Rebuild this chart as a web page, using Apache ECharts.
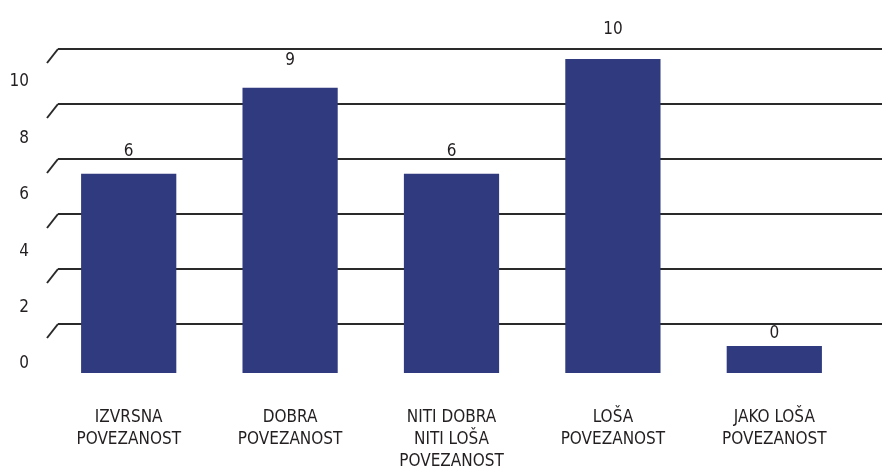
<!DOCTYPE html>
<html>
<head>
<meta charset="utf-8">
<title>povezanost</title>
<script src="https://cdn.jsdelivr.net/npm/echarts@6/dist/echarts.min.js"></script>
<style>
    html, body { margin: 0; padding: 0; background: #fff; }
    #main { width: 882px; height: 468px; }
</style>
</head>
<body>
<div id="main"></div>
<script type="text/javascript">
var categories = ['IZVRSNA\nPOVEZANOST', 'DOBRA\nPOVEZANOST', 'NITI DOBRA\nNITI LOŠA\nPOVEZANOST', 'LOŠA\nPOVEZANOST', 'JAKO LOŠA\nPOVEZANOST'];
var values = [6, 9, 6, 10, 0];
var yTicks = [0, 2, 4, 6, 8, 10];

var font = '"DejaVu Sans Condensed", "DejaVu Sans", sans-serif';
var ink = '#231f20';
var barColor = '#303a7f';
var lineColor = '#2a2a2a';
// bar floor sits below value 0 (3D depth of the original)
var barMin = -0.94;

var chart = echarts.init(document.getElementById('main'));

var option = {
    animation: false,
    grid: [
        { left: 48, right: 27, top: 40, bottom: 95, outerBoundsMode: 'none' },   // bars
        { left: 58, right: 0, top: 49, bottom: 144, outerBoundsMode: 'none' },   // back wall gridlines
        { left: 37, right: 0, top: 82, bottom: 104, outerBoundsMode: 'none' }    // front axis labels
    ],
    xAxis: [
        {
            gridIndex: 0, type: 'category', data: categories,
            axisLine: { show: false }, axisTick: { show: false },
            axisLabel: { interval: 0, margin: 34, lineHeight: 22, fontSize: 17, fontFamily: font, color: ink }
        },
        { gridIndex: 1, type: 'value', min: 0, max: 1, show: false },
        { gridIndex: 2, type: 'value', min: 0, max: 1, show: false }
    ],
    yAxis: [
        { gridIndex: 0, type: 'value', min: barMin, max: 10.66, show: false },
        {
            gridIndex: 1, type: 'value', min: 0, max: 10, interval: 2,
            axisLabel: { show: false }, axisLine: { show: false }, axisTick: { show: false },
            splitLine: { lineStyle: { color: lineColor, width: 2 } }
        },
        {
            gridIndex: 2, type: 'value', min: 0, max: 10, interval: 2,
            axisLine: { show: false }, axisTick: { show: false }, splitLine: { show: false },
            axisLabel: { margin: 8, fontSize: 17, fontFamily: font, color: ink }
        }
    ],
    series: [
        {
            // slanted stubs at the left end of each gridline
            type: 'custom', xAxisIndex: 1, yAxisIndex: 1,
            data: yTicks.map(function (t) { return [0, t]; }),
            renderItem: function (params, api) {
                var p = api.coord([api.value(0), api.value(1)]);
                return {
                    type: 'polyline',
                    shape: { points: [[p[0] - 11, p[1] + 14], [p[0], p[1]]] },
                    style: { stroke: lineColor, lineWidth: 2, fill: null }
                };
            }
        },
        {
            type: 'custom', xAxisIndex: 0, yAxisIndex: 0,
            data: values.map(function (v, i) { return [i, v]; }),
            encode: { x: 0, y: 1 },
            renderItem: function (params, api) {
                var v = api.value(1);
                var top = api.coord([api.value(0), v]);
                var base = api.coord([api.value(0), barMin]);
                // labels float over the 3D top face, a bit further out for tall bars
                var lab = api.coord([api.value(0), 0.42 + v * 1.06]);
                var w = api.size([1, 0])[0] * 0.59;
                return {
                    type: 'group',
                    children: [
                        {
                            type: 'rect',
                            shape: { x: top[0] - w / 2, y: top[1], width: w, height: base[1] - top[1] },
                            style: { fill: barColor }
                        },
                        {
                            type: 'text',
                            x: lab[0], y: lab[1],
                            style: { text: String(v), fill: ink, font: '17px ' + font, align: 'center', verticalAlign: 'middle' }
                        }
                    ]
                };
            }
        }
    ]
};

chart.setOption(option);
</script>
</body>
</html>
